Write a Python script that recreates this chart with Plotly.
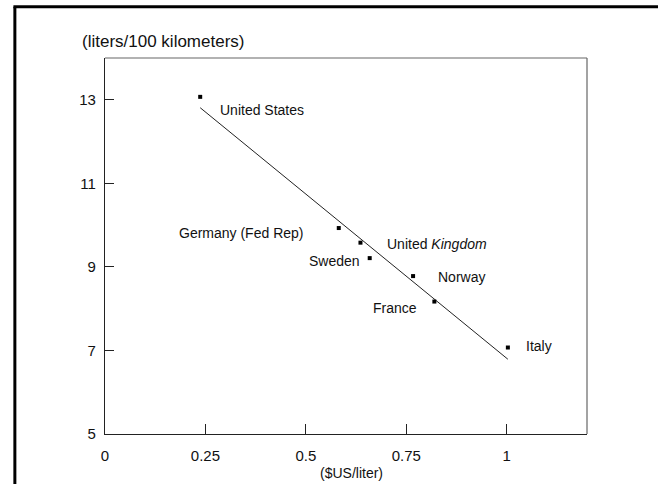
import plotly.graph_objects as go

# Data
countries = ["United States", "Germany (Fed Rep)", "United Kingdom", "Sweden", "Norway", "France", "Italy"]
price = [0.237, 0.582, 0.636, 0.659, 0.767, 0.820, 1.003]      # $US/liter
consumption = [13.07, 9.93, 9.58, 9.21, 8.78, 8.17, 7.07]      # liters/100 km

fit_x = [0.237, 1.003]
fit_y = [12.81, 6.79]

label_text = ["United States", "Germany (Fed Rep)", "United <i>Kingdom</i>", "Sweden", "Norway", "France", "Italy"]
label_x = [0.282, 0.499, 0.696, 0.640, 0.825, 0.781, 1.042]
label_y = [12.76, 9.81, 9.55, 9.13, 8.77, 8.01, 7.11]
label_anchor = ["left", "right", "left", "right", "left", "right", "left"]

x_ticks = [0, 0.25, 0.5, 0.75, 1]
x_tick_text = ["0", "0.25", "0.5", "0.75", "1"]
y_ticks = [5, 7, 9, 11, 13]

FONT = "Liberation Sans, Arial, sans-serif"
INK = "#111111"

fig = go.Figure()
fig.add_trace(go.Scatter(x=fit_x, y=fit_y, mode="lines",
                         line=dict(color="#222222", width=1), hoverinfo="skip"))
fig.add_trace(go.Scatter(x=price, y=consumption, mode="markers",
                         marker=dict(symbol="square", size=4, color="#000000"),
                         text=countries, hoverinfo="text"))

for t, x, y, a in zip(label_text, label_x, label_y, label_anchor):
    fig.add_annotation(x=x, y=y, text=t, showarrow=False, xanchor=a, yanchor="middle",
                       font=dict(family=FONT, size=14, color=INK))

# Y axis unit label (top-left)
fig.add_annotation(xref="paper", yref="paper", x=-0.052, y=1.0426, text="(liters/100 kilometers)",
                   showarrow=False, xanchor="left", yanchor="middle",
                   font=dict(family=FONT, size=17, color=INK))
# X axis unit label
fig.add_annotation(xref="paper", yref="paper", x=0.512, y=-0.104, text="($US/liter)",
                   showarrow=False, xanchor="center", yanchor="middle",
                   font=dict(family=FONT, size=14, color=INK))

# Plot frame (top/right lighter)
fig.add_shape(type="line", xref="paper", yref="paper", x0=0, x1=1, y0=1, y1=1,
              line=dict(color="#666666", width=1.2))
fig.add_shape(type="line", xref="paper", yref="paper", x0=1, x1=1, y0=0, y1=1,
              line=dict(color="#666666", width=1.2))
# Outer figure frame (thick, left and top)
fig.add_shape(type="line", xref="paper", yref="paper", x0=-0.187, x1=-0.187, y0=-0.2, y1=1.136,
              line=dict(color="#000000", width=3))
fig.add_shape(type="line", xref="paper", yref="paper", x0=-0.19, x1=1.2, y0=1.136, y1=1.136,
              line=dict(color="#000000", width=3))

fig.update_xaxes(range=[0, 1.2], tickvals=x_ticks, ticktext=x_tick_text,
                 ticks="inside", ticklen=10, tickwidth=1, tickcolor="#222222",
                 showline=True, linecolor="#222222", linewidth=1.2,
                 showgrid=False, zeroline=False, ticklabelstandoff=8,
                 tickfont=dict(family=FONT, size=15, color=INK))
fig.update_yaxes(range=[5, 14], tickvals=y_ticks,
                 ticks="inside", ticklen=9, tickwidth=1, tickcolor="#222222",
                 showline=True, linecolor="#222222", linewidth=1.2,
                 showgrid=False, zeroline=False, ticklabelstandoff=5,
                 tickfont=dict(family=FONT, size=15, color=INK))

fig.update_layout(width=658, height=484, margin=dict(l=105, r=71, t=58, b=50),
                  paper_bgcolor="white", plot_bgcolor="white", showlegend=False)

fig.write_html("out.html")
